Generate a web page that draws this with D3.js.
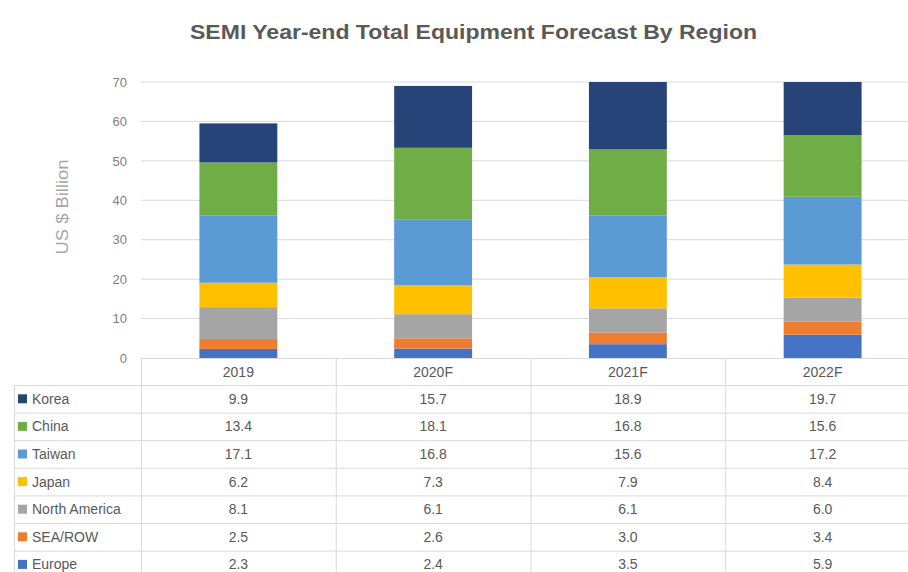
<!DOCTYPE html>
<html>
<head>
<meta charset="utf-8">
<script src="https://cdn.jsdelivr.net/npm/d3@7/dist/d3.min.js"></script>
<style>
  html, body { margin: 0; padding: 0; background: #fff; }
  svg { display: block; }
</style>
</head>
<body>
<svg id="chart" width="908" height="572"></svg>
<script>
const categories = ["2019", "2020F", "2021F", "2022F"];
const regions = ["Korea", "China", "Taiwan", "Japan", "North America", "SEA/ROW", "Europe"];
const korea = [9.9, 15.7, 18.9, 19.7];
const china = [13.4, 18.1, 16.8, 15.6];
const taiwan = [17.1, 16.8, 15.6, 17.2];
const japan = [6.2, 7.3, 7.9, 8.4];
const northAmerica = [8.1, 6.1, 6.1, 6.0];
const seaRow = [2.5, 2.6, 3.0, 3.4];
const europe = [2.3, 2.4, 3.5, 5.9];
const yTicks = [0, 10, 20, 30, 40, 50, 60, 70];
const colors = ["#264478", "#70ad47", "#5b9bd5", "#ffc000", "#a5a5a5", "#ed7d31", "#4472c4"];

const seriesValues = [korea, china, taiwan, japan, northAmerica, seaRow, europe];
const stackOrder = ["Europe", "SEA/ROW", "North America", "Japan", "Taiwan", "China", "Korea"];

const rows = categories.map((c, i) => {
  const o = { cat: c };
  regions.forEach((r, j) => { o[r] = seriesValues[j][i]; });
  return o;
});

const svg = d3.select("#chart");
const font = "'Liberation Sans', Arial, sans-serif";

const x = d3.scaleBand().domain(categories).range([141, 920]).paddingInner(0.6).paddingOuter(0.3);
const xCol = d3.scaleBand().domain(categories).range([141, 920]);
const y = d3.scaleLinear().domain([0, 70]).range([358, 82]);

// Title
svg.append("text")
  .attr("x", 190).attr("y", 39)
  .attr("text-anchor", "start")
  .attr("font-family", font).attr("font-weight", "bold")
  .attr("font-size", 20).attr("fill", "#595959")
  .attr("textLength", 567).attr("lengthAdjust", "spacingAndGlyphs")
  .text("SEMI Year-end Total Equipment Forecast By Region");

// Gridlines
svg.append("g").selectAll("line").data(yTicks.filter(t => t > 0)).join("line")
  .attr("x1", 141).attr("x2", 908)
  .attr("y1", d => y(d)).attr("y2", d => y(d))
  .attr("stroke", "#d9d9d9").attr("stroke-width", 1);

// Y axis labels
const yAxis = d3.axisLeft(y).tickValues(yTicks).tickSize(0).tickPadding(0);
const gy = svg.append("g").attr("transform", "translate(127,0)").call(yAxis);
gy.select(".domain").remove();
gy.selectAll("text").attr("font-family", font).attr("font-size", 13).attr("fill", "#7f7f7f");

// Y axis title
svg.append("text")
  .attr("transform", "translate(68,207) rotate(-90)")
  .attr("text-anchor", "middle")
  .attr("font-family", font).attr("font-size", 17).attr("fill", "#a6a6a6")
  .attr("textLength", 95).attr("lengthAdjust", "spacingAndGlyphs")
  .text("US $ Billion");

// Clip
svg.append("clipPath").attr("id", "plotclip")
  .append("rect").attr("x", 141).attr("y", y(70)).attr("width", 779).attr("height", y(0) - y(70));

const stack = d3.stack().keys(stackOrder);
const stacked = stack(rows);
const colorOf = d3.scaleOrdinal().domain(regions).range(colors);

svg.append("g").attr("clip-path", "url(#plotclip)")
  .selectAll("g").data(stacked).join("g")
  .attr("fill", d => colorOf(d.key))
  .selectAll("rect").data(d => d).join("rect")
  .attr("x", d => x(d.data.cat))
  .attr("width", x.bandwidth())
  .attr("y", d => y(d[1]))
  .attr("height", d => y(d[0]) - y(d[1]));

// Table
const rowH = 27.6;
const headTop = 358, headBottom = 385;
const tbl = svg.append("g");
const lineColor = "#d9d9d9";

tbl.append("line").attr("x1", 141).attr("x2", 920).attr("y1", headTop + 0.5).attr("y2", headTop + 0.5).attr("stroke", lineColor);
categories.forEach(c => {
  tbl.append("line").attr("x1", xCol(c) + 0.5).attr("x2", xCol(c) + 0.5)
    .attr("y1", headTop).attr("y2", 572).attr("stroke", lineColor);
});
tbl.append("line").attr("x1", 14.5).attr("x2", 14.5).attr("y1", headBottom).attr("y2", 572).attr("stroke", lineColor);
d3.range(regions.length).forEach(i => {
  const yy = headBottom + i * rowH;
  tbl.append("line").attr("x1", 14).attr("x2", 920).attr("y1", yy + 0.5).attr("y2", yy + 0.5).attr("stroke", lineColor);
});

tbl.selectAll("text.head").data(categories).join("text")
  .attr("class", "head")
  .attr("x", d => xCol(d) + xCol.bandwidth() / 2)
  .attr("y", (headTop + headBottom) / 2 + 5)
  .attr("text-anchor", "middle")
  .attr("font-family", font).attr("font-size", 14).attr("fill", "#595959")
  .text(d => d);

regions.forEach((r, i) => {
  const cy = headBottom + i * rowH + rowH / 2;
  tbl.append("rect").attr("x", 18).attr("y", cy - 4.5).attr("width", 9).attr("height", 9).attr("fill", colors[i]);
  tbl.append("text").attr("x", 32).attr("y", cy + 5)
    .attr("font-family", font).attr("font-size", 14).attr("fill", "#595959")
    .text(r);
  categories.forEach((c, k) => {
    tbl.append("text")
      .attr("x", xCol(c) + xCol.bandwidth() / 2)
      .attr("y", cy + 5)
      .attr("text-anchor", "middle")
      .attr("font-family", font).attr("font-size", 14).attr("fill", "#595959")
      .text(seriesValues[i][k].toFixed(1));
  });
});
</script>
</body>
</html>
